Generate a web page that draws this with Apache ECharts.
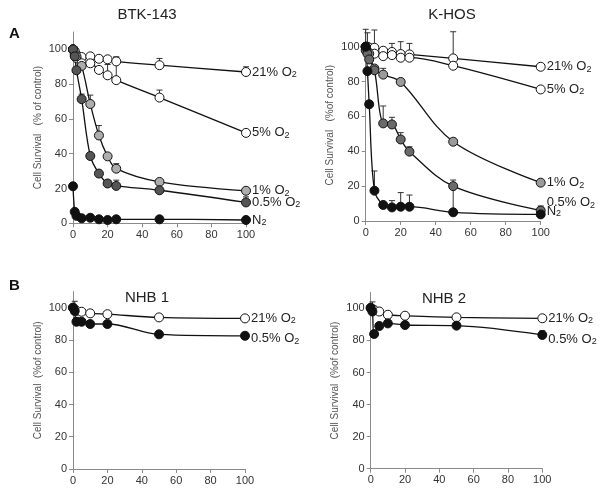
<!DOCTYPE html>
<html>
<head>
<meta charset="utf-8">
<script src="https://cdn.jsdelivr.net/npm/echarts@6/dist/echarts.min.js"></script>
<style>
  html, body { margin: 0; padding: 0; background: #fff; }
  #main { width: 602px; height: 491px; }
</style>
</head>
<body>
<div id="main"></div>
<script>
// x 轴刻度（剂量）
const xTicks = [0, 20, 40, 60, 80, 100];
const yTicks = [0, 20, 40, 60, 80, 100];

// BTK-143
const btkX = [0, 1, 2, 5, 10, 15, 20, 25, 50, 100];
const btk21 = [100, 98, 97, 95.6, 96, 94.6, 94.3, 93.1, 90.9, 87];
const btk5 = [100, 97, 95, 92, 92, 88.2, 85.1, 82.3, 72.3, 52];
const btk1 = [100, 99, 96, 90.5, 68.6, 50.5, 38.5, 31.4, 23.8, 18.7];
const btk05 = [100, 96, 88, 71.4, 38.7, 28.6, 22.9, 21.5, 19, 12];
const btkN2 = [21.3, 6.6, 4.3, 2.9, 3.2, 2.3, 1.9, 2.3, 2.3, 1.9];
// 误差线 [x, 均值, 上限]
const btkErr = [
  [25, 93.1, 95.6], [50, 90.9, 94.8], [100, 87, 90],
  [20, 85.1, 91.3], [25, 82.3, 95.6], [50, 72.3, 76.6],
  [10, 68.6, 73.7], [15, 50.5, 56.2], [25, 31.4, 34.3],
  [5, 71.4, 74.3], [25, 21.5, 24.8], [100, 12, 15.2],
  [1, 98, 101.5]
];

// K-HOS
const khosX = [0, 1, 2, 5, 10, 15, 20, 25, 50, 100];
const khos21 = [100, 100, 99.5, 99.4, 97.7, 97, 95.8, 95.6, 93.3, 88.5];
const khos5 = [100, 97, 96.5, 96, 94.6, 95.2, 93.7, 93.7, 89.1, 75.5];
const khos1X = [0, 2, 5, 10, 20, 50, 100];
const khos1 = [100, 96, 87.5, 84, 79.8, 45.5, 22];
const khos05 = [98, 96, 92.7, 86.5, 56, 55.4, 46.8, 39.8, 20, 6];
const khosN2 = [100, 86, 67, 17.4, 9.2, 7.8, 8.2, 8.2, 5, 3.8];
const khosErr = [
  [0, 100, 110], [1, 100, 108], [5, 99.4, 109.6],
  [15, 97, 101.9], [20, 95.8, 102.9], [25, 95.6, 101.9], [50, 93.3, 108.6],
  [10, 84, 87.6], [20, 79.8, 81.5], [50, 45.5, 46.8],
  [10, 56, 66], [15, 55.4, 59.5], [20, 46.8, 50.7], [25, 39.8, 42.6], [50, 20, 23.5], [100, 6, 8.6],
  [5, 17.4, 28.7], [15, 7.8, 11.7], [20, 8.2, 16.3], [25, 8.2, 14.9], [50, 5, 20]
];

// NHB 1
const nhb1X = [0, 1, 2, 5, 10, 20, 50, 100];
const nhb1_21 = [100, 99, 98, 97.5, 96.5, 96, 94, 93.4];
const nhb1_05 = [100, 98, 91.3, 91.3, 89.9, 89.9, 83.5, 82.6];
const nhb1Err = [[1, 98, 104], [100, 82.6, 84.5], [2, 91.3, 94]];

// NHB 2
const nhb2X = [0, 1, 2, 5, 10, 20, 50, 100];
const nhb2_21 = [100, 99.5, 99, 98, 96, 95.4, 94.4, 93.8];
const nhb2_05 = [100.4, 98, 84, 89, 90.6, 89.6, 89.2, 83.4];
const nhb2Err = [[1, 98, 104], [10, 90.6, 92.5], [100, 83.4, 86]];

// 面板布局
const panels = [
  { left: 73, top: 32, width: 173, height: 191.3, yName: 'Cell Survival   (% of control)' },
  { left: 365.7, top: 29.3, width: 175, height: 191.7, yName: 'Cell Survival   (%of control)' },
  { left: 73, top: 291.6, width: 172, height: 177.4, yName: 'Cell Survival  (%of control)' },
  { left: 370.7, top: 292.3, width: 171.6, height: 176.4, yName: 'Cell Survival  (%of control)' }
];

function zip(xs, ys) {
  return xs.map((x, i) => [x, ys[i]]);
}

function labelText(name) {
  // 'O2' 中的 2 用下标
  if (name === 'N2') return '{t|N}{s|2}';
  return '{t|' + name.replace(' O2', ' O') + '}{s|2}';
}

function lineSeries(idx, name, xs, ys, fill, offset) {
  const off = offset || [0, 0];
  return {
    type: 'line',
    xAxisIndex: idx,
    yAxisIndex: idx,
    data: zip(xs, ys),
    smooth: 0.35,
    symbol: 'circle',
    symbolSize: 9,
    z: 3,
    lineStyle: { color: '#111', width: 1.3 },
    itemStyle: { color: fill, borderColor: '#111', borderWidth: 1 },
    endLabel: {
      show: true,
      formatter: labelText(name),
      distance: 3,
      offset: [3 + off[0], off[1]],
      rich: {
        t: { fontFamily: 'Arial, Liberation Sans', fontSize: 13, color: '#222' },
        s: { fontFamily: 'Arial, Liberation Sans', fontSize: 9, color: '#222', padding: [5, 0, 0, 0] }
      }
    },
    emphasis: { disabled: true },
    animation: false
  };
}

function errSeries(idx, errs) {
  return {
    type: 'custom',
    xAxisIndex: idx,
    yAxisIndex: idx,
    data: errs,
    z: 2,
    silent: true,
    animation: false,
    renderItem: function (params, api) {
      const lo = api.coord([api.value(0), api.value(1)]);
      const hi = api.coord([api.value(0), api.value(2)]);
      const style = { stroke: '#333', lineWidth: 1 };
      return {
        type: 'group',
        children: [
          { type: 'line', shape: { x1: lo[0], y1: lo[1], x2: hi[0], y2: hi[1] }, style },
          { type: 'line', shape: { x1: hi[0] - 3, y1: hi[1], x2: hi[0] + 3, y2: hi[1] }, style }
        ]
      };
    }
  };
}

const axisColor = '#8a8a8a';
const labelStyle = { fontFamily: 'Arial, Liberation Sans', fontSize: 11, color: '#333' };

const chart = echarts.init(document.getElementById('main'), null, { renderer: 'canvas' });

chart.setOption({
  animation: false,
  graphic: [
    { type: 'text', left: 9, top: 26, style: { text: 'A', font: 'bold 15px Arial', fill: '#111' } },
    { type: 'text', left: 9, top: 278, style: { text: 'B', font: 'bold 15px Arial', fill: '#111' } },
    { type: 'text', x: 147, y: 15, style: { text: 'BTK-143', font: '15px Arial', fill: '#222', textAlign: 'center', textVerticalAlign: 'middle' } },
    { type: 'text', x: 452, y: 15, style: { text: 'K-HOS', font: '15px Arial', fill: '#222', textAlign: 'center', textVerticalAlign: 'middle' } },
    { type: 'text', x: 147, y: 298, style: { text: 'NHB 1', font: '15px Arial', fill: '#222', textAlign: 'center', textVerticalAlign: 'middle' } },
    { type: 'text', x: 444, y: 299, style: { text: 'NHB 2', font: '15px Arial', fill: '#222', textAlign: 'center', textVerticalAlign: 'middle' } }
  ],
  grid: panels.map(p => ({ left: p.left, top: p.top, width: p.width, height: p.height })),
  xAxis: panels.map((p, i) => ({
    type: 'value',
    gridIndex: i,
    min: 0,
    max: 100,
    interval: 20,
    splitLine: { show: false },
    axisLine: { lineStyle: { color: axisColor, width: 1 } },
    axisTick: { length: 4, lineStyle: { color: axisColor }, customValues: xTicks },
    axisLabel: Object.assign({ margin: 6, customValues: xTicks }, labelStyle)
  })),
  yAxis: panels.map((p, i) => ({
    type: 'value',
    gridIndex: i,
    min: 0,
    max: 110,
    interval: 10,
    name: p.yName,
    nameLocation: 'middle',
    nameGap: 30,
    nameTextStyle: { fontFamily: 'Arial, Liberation Sans', fontSize: 10, color: '#555' },
    splitLine: { show: false },
    axisLine: { show: true, lineStyle: { color: axisColor, width: 1 } },
    axisTick: { show: true, length: 4, lineStyle: { color: axisColor }, customValues: yTicks },
    axisLabel: Object.assign({ margin: 6, customValues: yTicks }, labelStyle)
  })),
  series: [
    errSeries(0, btkErr),
    lineSeries(0, '21% O2', btkX, btk21, '#fff'),
    lineSeries(0, '5% O2', btkX, btk5, '#fff'),
    lineSeries(0, '1% O2', btkX, btk1, '#adadad'),
    lineSeries(0, '0.5% O2', btkX, btk05, '#555'),
    lineSeries(0, 'N2', btkX, btkN2, '#111'),

    errSeries(1, khosErr),
    lineSeries(1, '21% O2', khosX, khos21, '#fff'),
    lineSeries(1, '5% O2', khosX, khos5, '#fff'),
    lineSeries(1, '1% O2', khos1X, khos1, '#9a9a9a'),
    lineSeries(1, '0.5% O2', khosX, khos05, '#6a6a6a', [0, -8]),
    lineSeries(1, 'N2', khosX, khosN2, '#111', [0, -3]),

    errSeries(2, nhb1Err),
    lineSeries(2, '21% O2', nhb1X, nhb1_21, '#fff'),
    lineSeries(2, '0.5% O2', nhb1X, nhb1_05, '#111', [0, 3]),

    errSeries(3, nhb2Err),
    lineSeries(3, '21% O2', nhb2X, nhb2_21, '#fff'),
    lineSeries(3, '0.5% O2', nhb2X, nhb2_05, '#111', [0, 4])
  ]
});
</script>
</body>
</html>
